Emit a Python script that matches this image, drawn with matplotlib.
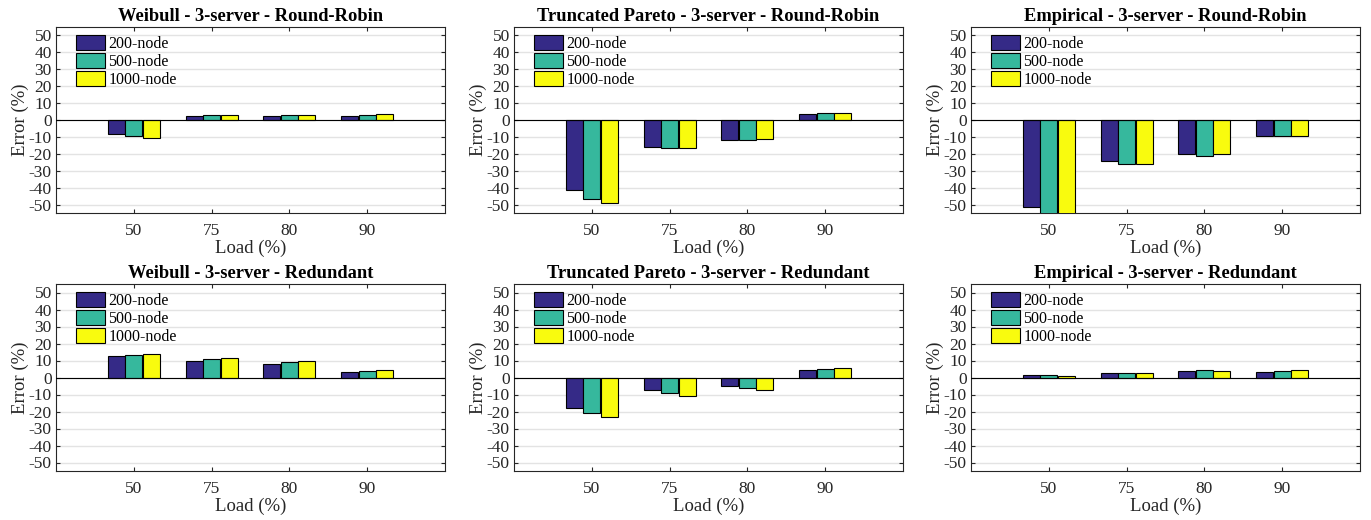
import matplotlib
matplotlib.use("Agg")
import matplotlib.pyplot as plt
import numpy as np

plt.rcParams['font.family'] = ['Liberation Serif', 'DejaVu Serif']

loads = ["50", "75", "80", "90"]
series_names = ["200-node", "500-node", "1000-node"]
colors = ["#352A87", "#36B89D", "#F9FB0E"]

titles = [
    "Weibull - 3-server - Round-Robin",
    "Truncated Pareto - 3-server - Round-Robin",
    "Empirical - 3-server - Round-Robin",
    "Weibull - 3-server - Redundant",
    "Truncated Pareto - 3-server - Redundant",
    "Empirical - 3-server - Redundant",
]

# values per panel: [200-node, 500-node, 1000-node], each over loads 50,75,80,90
weibull_rr_200 = [-8.2, 2.6, 2.6, 2.4]
weibull_rr_500 = [-9.4, 2.8, 3.2, 3.2]
weibull_rr_1000 = [-10.6, 2.8, 3.0, 3.8]

pareto_rr_200 = [-41.2, -15.8, -11.8, 3.6]
pareto_rr_500 = [-46.8, -16.8, -11.8, 4.0]
pareto_rr_1000 = [-49.2, -16.8, -11.2, 4.4]

empirical_rr_200 = [-51.2, -24.0, -20.4, -9.4]
empirical_rr_500 = [-58.0, -26.0, -21.0, -9.4]
empirical_rr_1000 = [-60.0, -26.0, -20.4, -9.4]

weibull_red_200 = [12.6, 9.8, 8.2, 3.2]
weibull_red_500 = [13.4, 11.0, 9.2, 4.0]
weibull_red_1000 = [13.6, 11.4, 10.0, 4.4]

pareto_red_200 = [-18.0, -7.6, -5.0, 4.4]
pareto_red_500 = [-20.6, -9.0, -6.2, 5.2]
pareto_red_1000 = [-23.0, -10.8, -7.4, 5.4]

empirical_red_200 = [1.4, 2.6, 3.8, 3.2]
empirical_red_500 = [1.4, 2.8, 4.2, 3.8]
empirical_red_1000 = [0.6, 2.6, 3.8, 4.2]

panels = [
    [weibull_rr_200, weibull_rr_500, weibull_rr_1000],
    [pareto_rr_200, pareto_rr_500, pareto_rr_1000],
    [empirical_rr_200, empirical_rr_500, empirical_rr_1000],
    [weibull_red_200, weibull_red_500, weibull_red_1000],
    [pareto_red_200, pareto_red_500, pareto_red_1000],
    [empirical_red_200, empirical_red_500, empirical_red_1000],
]

W, H = 1371, 520
fig = plt.figure(figsize=(W / 100, H / 100), dpi=100)

col_lefts = [56, 514, 971]
col_width = 389
row_tops = [27, 284]
row_heights = [186, 187]

x = np.arange(1, len(loads) + 1)
bw = 0.22
offsets = [-0.225, 0.0, 0.225]
edge = "#262626"

for i, (title, data) in enumerate(zip(titles, panels)):
    r, c = divmod(i, 3)
    left = col_lefts[c] / W
    bottom = 1 - (row_tops[r] + row_heights[r]) / H
    ax = fig.add_axes([left, bottom, col_width / W, row_heights[r] / H])
    ax.set_axisbelow(True)
    ax.yaxis.grid(True, color="#E3E3E3", linewidth=1.0)
    handles = []
    for k in range(3):
        b = ax.bar(x + offsets[k], data[k], width=bw, color=colors[k],
                   edgecolor="black", linewidth=0.8, label=series_names[k], zorder=3)
        handles.append(b)
    ax.axhline(0, color="black", linewidth=0.8, zorder=4)
    ax.set_xlim(0, 5)
    ax.set_ylim(-55, 55)
    ax.set_xticks(x)
    ax.set_xticklabels(loads, fontsize=12.5)
    ax.set_yticks(np.arange(-50, 51, 10))
    ax.set_yticklabels([str(v) for v in range(-50, 51, 10)], fontsize=12.5)
    ax.tick_params(direction="in", length=3, top=True, right=True, colors=edge,
                   labelcolor="#262626")
    ax.tick_params(axis="x", pad=7)
    ax.tick_params(axis="y", pad=3)
    for s in ax.spines.values():
        s.set_color(edge)
        s.set_linewidth(0.8)
    ax.set_xlabel("Load (%)", fontsize=13.5, color="#262626", labelpad=1)
    ax.set_ylabel("Error (%)", fontsize=13.5, color="#262626", labelpad=0)
    ax.set_title(title, fontsize=13.3, fontweight="bold", pad=4)
    ax.legend(handles=handles, loc="upper left", frameon=False, fontsize=11.5,
              handlelength=1.85, handleheight=1.05, handletextpad=0.2,
              labelspacing=0.08, borderaxespad=0.1,
              bbox_to_anchor=(0.03, 1.0))

fig.savefig("out.png", dpi=100)
